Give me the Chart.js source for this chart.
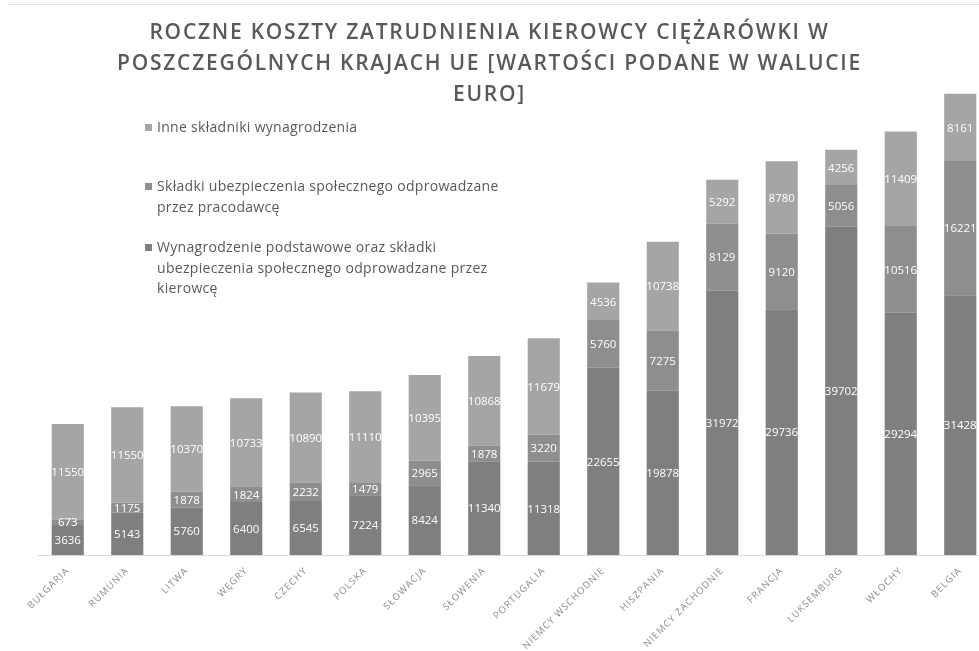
<!DOCTYPE html>
<html lang="pl">
<head>
<meta charset="utf-8">
<script src="https://cdn.jsdelivr.net/npm/chart.js@4.4.1/dist/chart.umd.min.js"></script>
<style>
  html, body { margin: 0; padding: 0; background: #fff; overflow: hidden; }
  #wrap { position: relative; width: 990px; height: 651px; }
  #chart { position: absolute; left: 0; top: 0; }
  .topline { position: absolute; left: 8px; top: 4px; width: 975px; height: 1px; background: #e3e3e3; }
  .title {
    position: absolute; left: 0; top: 16px; width: 979px; text-align: center;
    font-family: "Open Sans", sans-serif; font-weight: 600; font-size: 21px;
    line-height: 31px; color: #595959; letter-spacing: 1.75px;
  }
  .legend-item {
    position: absolute; left: 145px;
    font-family: "Open Sans", sans-serif; font-size: 14px; line-height: 20.5px;
    color: #595959; letter-spacing: 0.3px;
  }
  .legend-item .box {
    position: absolute; left: 0; top: 7px; width: 7px; height: 7px;
  }
  .legend-item .txt { margin-left: 12px; }
</style>
</head>
<body>
<div id="wrap">
  <canvas id="chart" width="990" height="651"></canvas>
  <div class="topline"></div>
  <div class="title">ROCZNE KOSZTY ZATRUDNIENIA KIEROWCY CIĘŻARÓWKI W<br>POSZCZEGÓLNYCH KRAJACH UE [WARTOŚCI PODANE W WALUCIE<br>EURO]</div>
  <div id="legend"></div>
</div>
<script>
// categories (countries)
const countries = [
  'BUŁGARIA', 'RUMUNIA', 'LITWA', 'WĘGRY', 'CZECHY', 'POLSKA', 'SŁOWACJA', 'SŁOWENIA',
  'PORTUGALIA', 'NIEMCY WSCHODNIE', 'HISZPANIA', 'NIEMCY ZACHODNIE', 'FRANCJA',
  'LUKSEMBURG', 'WŁOCHY', 'BELGIA'
];

// series values [EUR]
const baseSalary = [3636, 5143, 5760, 6400, 6545, 7224, 8424, 11340, 11318, 22655, 19878, 31972, 29736, 39702, 29294, 31428];
const employerContrib = [673, 1175, 1878, 1824, 2232, 1479, 2965, 1878, 3220, 5760, 7275, 8129, 9120, 5056, 10516, 16221];
const otherParts = [11550, 11550, 10370, 10733, 10890, 11110, 10395, 10868, 11679, 4536, 10738, 5292, 8780, 4256, 11409, 8161];

const seriesNames = [
  'Wynagrodzenie podstawowe oraz składki\nubezpieczenia społecznego odprowadzane przez\nkierowcę',
  'Składki ubezpieczenia społecznego odprowadzane\nprzez pracodawcę',
  'Inne składniki wynagrodzenia'
];
const seriesColors = ['#7f7f7f', '#8e8e8e', '#a5a5a5'];

// legend (Excel-style, reversed order, wrapped text)
const legendTops = [237, 176, 117];
const legendEl = document.getElementById('legend');
[2, 1, 0].forEach(i => {
  const item = document.createElement('div');
  item.className = 'legend-item';
  item.style.top = legendTops[i] + 'px';
  const box = document.createElement('span');
  box.className = 'box';
  box.style.background = seriesColors[i];
  const txt = document.createElement('div');
  txt.className = 'txt';
  txt.innerHTML = seriesNames[i].split('\n').join('<br>');
  item.appendChild(box);
  item.appendChild(txt);
  legendEl.appendChild(item);
});

// white values in the middle of each segment
const segmentLabels = {
  id: 'segmentLabels',
  beforeDraw(chart) {
    chart.ctx.letterSpacing = '1.1px';
  },
  afterDatasetsDraw(chart) {
    const ctx = chart.ctx;
    ctx.save();
    ctx.letterSpacing = '0px';
    ctx.fillStyle = '#ffffff';
    ctx.font = '11.5px "Open Sans"';
    ctx.textAlign = 'center';
    ctx.textBaseline = 'middle';
    chart.data.datasets.forEach((ds, i) => {
      chart.getDatasetMeta(i).data.forEach((bar, j) => {
        const p = bar.getProps(['x', 'y', 'base'], true);
        ctx.fillText(String(ds.data[j]), p.x, (p.y + p.base) / 2 + 1);
      });
    });
    ctx.restore();
  }
};

const datasets = [baseSalary, employerContrib, otherParts].map((vals, i) => ({
  label: seriesNames[i].replace(/\n/g, ' '),
  data: vals,
  backgroundColor: seriesColors[i],
  borderWidth: 0,
  barPercentage: 0.54,
  categoryPercentage: 1
}));

new Chart(document.getElementById('chart'), {
  type: 'bar',
  data: { labels: countries, datasets: datasets },
  options: {
    responsive: false,
    animation: false,
    layout: { padding: { left: 38, right: 0, top: 59, bottom: 0 } },
    plugins: {
      legend: { display: false },
      tooltip: { enabled: false }
    },
    scales: {
      x: {
        stacked: true,
        grid: { display: false, drawTicks: false },
        border: { display: true, color: '#d9d9d9', width: 1 },
        ticks: {
          minRotation: 45,
          maxRotation: 45,
          padding: 10,
          color: '#8a8a8a',
          font: { family: 'Open Sans', size: 9.5 }
        },
        afterFit: scale => { scale.height = 96; }
      },
      y: {
        stacked: true,
        display: false,
        min: 0,
        max: 60000
      }
    }
  },
  plugins: [segmentLabels]
});
</script>
</body>
</html>
